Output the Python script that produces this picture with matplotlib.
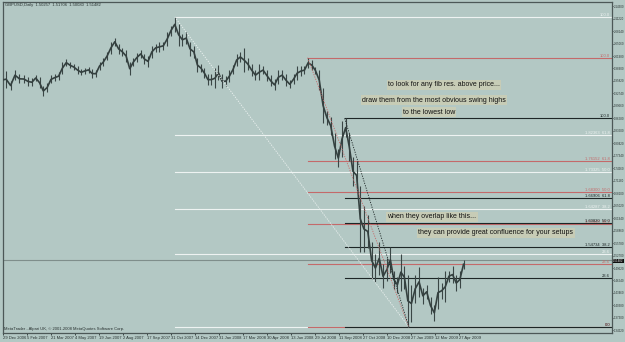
import numpy as np
import pandas as pd
import matplotlib
matplotlib.use('Agg')
import matplotlib.pyplot as plt

# GBPUSD, semanas (quarta-feira de cada semana), minima e maxima
week_lo = [1.953, 1.942, 1.936, 1.960, 1.952, 1.954, 1.946, 1.945, 1.958, 1.940,
           1.922, 1.932, 1.952, 1.958, 1.960, 1.975, 1.995, 1.990, 1.985, 1.975,
           1.972, 1.976, 1.978, 1.965, 1.967, 1.985, 1.995, 2.010, 2.025, 2.045,
           2.025, 2.020, 2.005, 1.972, 1.995, 2.005, 2.015, 2.000, 1.993, 2.015,
           2.030, 2.030, 2.035, 2.045, 2.070, 2.080, 2.045, 2.045, 2.050, 2.020,
           2.015, 1.980, 1.980, 1.965, 1.948, 1.948, 1.940, 1.960, 1.940, 1.945,
           1.955, 1.975, 1.995, 2.005, 1.980, 1.985, 1.970, 1.960, 1.960, 1.975,
           1.958, 1.945, 1.935, 1.950, 1.960, 1.945, 1.940, 1.950, 1.960, 1.970,
           1.975, 1.990, 1.985, 1.975, 1.935, 1.855, 1.850, 1.825, 1.765, 1.745,
           1.770, 1.820, 1.760, 1.700, 1.690, 1.535, 1.535, 1.545, 1.470, 1.462,
           1.480, 1.446, 1.465, 1.485, 1.445, 1.435, 1.440, 1.445, 1.350, 1.362,
           1.410, 1.425, 1.407, 1.420, 1.382, 1.366, 1.396, 1.420, 1.412, 1.462,
           1.460, 1.440, 1.446, 1.494]
week_hi = [1.968, 1.983, 1.958, 1.985, 1.975, 1.972, 1.968, 1.965, 1.973, 1.968,
           1.945, 1.952, 1.972, 1.975, 1.980, 2.005, 2.012, 2.004, 2.000, 1.995,
           1.987, 1.990, 1.993, 1.988, 1.985, 2.005, 2.015, 2.030, 2.055, 2.065,
           2.050, 2.040, 2.035, 2.005, 2.015, 2.028, 2.035, 2.025, 2.020, 2.045,
           2.050, 2.055, 2.055, 2.078, 2.095, 2.116, 2.100, 2.075, 2.078, 2.055,
           2.045, 2.015, 2.000, 1.990, 1.975, 1.975, 1.990, 1.997, 1.975, 1.970,
           1.985, 1.998, 2.025, 2.030, 2.040, 2.015, 2.000, 1.985, 2.000, 1.995,
           1.985, 1.972, 1.962, 1.985, 1.985, 1.975, 1.960, 1.975, 1.995, 1.995,
           1.995, 2.016, 2.010, 1.993, 1.985, 1.940, 1.885, 1.870, 1.830, 1.790,
           1.860, 1.866, 1.830, 1.770, 1.760, 1.700, 1.650, 1.628, 1.560, 1.530,
           1.560, 1.505, 1.520, 1.548, 1.490, 1.475, 1.532, 1.502, 1.480, 1.455,
           1.480, 1.499, 1.448, 1.455, 1.425, 1.405, 1.475, 1.460, 1.488, 1.490,
           1.500, 1.478, 1.490, 1.517]

tick_dates = ['2006-12-29', '2007-02-05', '2007-03-21', '2007-05-04', '2007-06-19',
              '2007-08-02', '2007-09-17', '2007-10-31', '2007-12-14', '2008-01-31',
              '2008-03-17', '2008-04-30', '2008-06-13', '2008-07-29', '2008-09-11',
              '2008-10-27', '2008-12-10', '2009-01-27', '2009-03-12', '2009-04-27']
tick_labels = ['29 Dec 2006', '5 Feb 2007', '21 Mar 2007', '4 May 2007', '19 Jun 2007',
               '2 Aug 2007', '17 Sep 2007', '31 Oct 2007', '14 Dec 2007', '31 Jan 2008',
               '17 Mar 2008', '30 Apr 2008', '13 Jun 2008', '29 Jul 2008', '11 Sep 2008',
               '27 Oct 2008', '10 Dec 2008', '27 Jan 2009', '12 Mar 2009', '27 Apr 2009']

# Retracoes de Fibonacci: topos e fundo
swing_hi = [2.1162, 2.0157, 1.8661]
swing_dates = ['2007-11-07', '2008-07-15', '2008-09-22']
swing_cols = ['#eef3f2', '#c46a6a', '#1d2626']
low_price = 1.3503
low_date = '2009-01-23'
fib_levels = [0.0, 23.6, 38.2, 50.0, 61.8, 100.0]

ohlc = [1.50257, 1.51706, 1.50080, 1.51482]

annotations = [('to look for any fib res. above price...', 444, 85),
               ('draw them from the most obvious swing highs', 434, 100),
               ('to the lowest low', 429, 112),
               ('when they overlap like this...', 432, 217),
               ('they can provide great confluence for your setups', 496, 233)]

bg = '#b3c8c4'
txt = '#27302f'
plt.rcParams['font.family'] = ['Liberation Sans', 'DejaVu Sans']

# eixo do MT4: posicao por barra, interpolada entre as datas dos rotulos
tnum = pd.DatetimeIndex(tick_dates).values.astype('datetime64[D]').astype(float)


def fPos(d):
    d = pd.DatetimeIndex(np.atleast_1d(d)).values.astype('datetime64[D]').astype(float)
    u = np.interp(d, tnum, np.arange(len(tnum)))
    u = np.where(d < tnum[0], (d - tnum[0]) / (tnum[1] - tnum[0]), u)
    u = np.where(d > tnum[-1], len(tnum) - 1 + (d - tnum[-1]) / (tnum[-1] - tnum[-2]), u)
    return u


weeks = pd.date_range('2006-12-27', periods=len(week_lo), freq='W-WED')
u = fPos(weeks)
lo = np.array(week_lo)
hi = np.array(week_hi)

W, H = 625, 342
fig = plt.figure(figsize=(W / 100, H / 100), dpi=100, facecolor=bg)
ax = fig.add_axes([3 / W, 1 - 333 / H, 609 / W, 331 / H], facecolor=bg)

pxPrice = 0.00247
ax.set_ylim(2.1162 - 316 * pxPrice, 2.1162 + 15 * pxPrice)
xl = (4 / 24.15, 613 / 24.15)
ax.set_xlim(*xl)

# serie de precos (faixa semanal fina + linha media)
ax.vlines(u, lo, hi, color='#3a4645', lw=0.8, zorder=3)
ax.plot(u, (lo + hi) / 2, color='#34403f', lw=1.2, zorder=3)

# linha do preco atual
ax.axhline(ohlc[3], color='#7f8e8b', lw=0.8, zorder=2)

# fibos
uLow = fPos(low_date)[0]
for sh, dt, col in zip(swing_hi, swing_dates, swing_cols):
    u0 = fPos(dt)[0]
    ax.plot([u0, uLow], [sh, low_price], color=col, lw=0.6, ls=(0, (1.5, 1.5)), zorder=4)
    for lv in fib_levels:
        p = low_price + lv / 100 * (sh - low_price)
        ax.plot([u0, xl[1]], [p, p], color=col, lw=0.8, zorder=2)
        if lv in (0.0, 23.6, 100.0):
            s = f'{lv:.1f}'
        else:
            s = f'{p:.5f}  {lv:.1f}'
        ax.text(xl[1] - 0.08, p, s, color=col, fontsize=3, ha='right', va='bottom', zorder=5)

# textos
for s, x, y in annotations:
    fig.text(x / W, 1 - y / H, s, fontsize=5, color='#111', ha='center', va='center',
             bbox=dict(boxstyle='square,pad=0.15', fc='#c7ccb6', ec='none'))

fig.text(5 / W, 1 - 5 / H, 'GBPUSD,Daily  ' + '  '.join(f'{v:.5f}' for v in ohlc),
         fontsize=3, color=txt, va='center')
fig.text(4 / W, 1 - 329 / H, 'MetaTrader - Alpari UK, \u00a9 2001-2008 MetaQuotes Software Corp.',
         fontsize=3, color=txt, va='center')

# eixos
ax.set_xticks(np.arange(len(tick_labels)), tick_labels, fontsize=3, color=txt, ha='left')
ax.tick_params(axis='x', length=1.5, width=0.6, color=txt, pad=0.5)
ax.yaxis.tick_right()
yt = 2.1430 - 0.0308 * np.arange(27)
ax.set_yticks(yt, [f'{v:.5f}' for v in yt], fontsize=2.1, color=txt)
ax.tick_params(axis='y', length=1, width=0.6, color=txt, pad=0.3)
for sp in ax.spines.values():
    sp.set_color('#4c5857')
    sp.set_linewidth(0.9)

fig.text(613 / W, 1 - 261 / H, f'{ohlc[3]:.5f}', fontsize=2.1, color='#e8e8e8', va='center',
         bbox=dict(boxstyle='square,pad=0.15', fc='#101010', ec='none'))

fig.savefig('out.png', dpi=100, facecolor=bg)
